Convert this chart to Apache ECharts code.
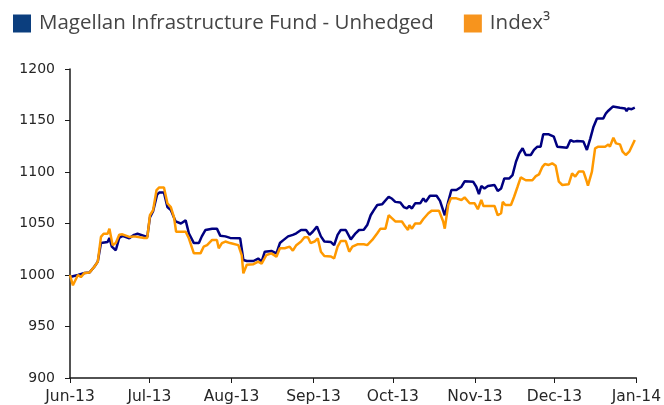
<!DOCTYPE html>
<html>
<head>
<meta charset="utf-8">
<script src="https://cdn.jsdelivr.net/npm/echarts@6/dist/echarts.min.js"></script>
<style>html,body{margin:0;padding:0;background:#fff}#c{width:664px;height:405px}</style>
</head>
<body>
<div id="c"></div>
<script>
// Days since 1 Jun 2013
const monthTickDays = [0, 30, 61, 92, 122, 153, 183, 214];
const monthLabels = ['Jun-13', 'Jul-13', 'Aug-13', 'Sep-13', 'Oct-13', 'Nov-13', 'Dec-13', 'Jan-14'];
const yTicks = [900, 950, 1000, 1050, 1100, 1150, 1200];

const fundName = 'Magellan Infrastructure Fund - Unhedged';
const indexName = 'Index³';

const fundDays = [0,3,5.5,7.4,9.2,10.5,11.7,14.2,14.9,15.8,17.3,18.6,19.8,22.4,24.2,25.5,28,29.2,30.2,31.4,32.9,33.7,35.5,36.8,38.1,39.9,41.9,43.7,44.9,46.8,48.7,49.8,51.2,53.7,55.5,56.8,58.7,60.5,64.3,65.5,66.8,69.3,71.1,72.4,73.6,76.1,78,79.3,80.5,82.4,84.2,85.5,87.3,89.2,90.5,91.7,93.3,94.8,96.1,98.6,99.8,101.1,102.3,104.2,106.1,107.9,109.2,111,112.3,113.6,114.8,116.1,117.9,120.4,121.7,122.9,124.8,126.1,127.3,128.2,129.2,130.4,132.3,133.5,134.4,136,138.5,139.8,141.6,142.9,144.1,146,147.9,149.1,152.3,153.5,154.5,155.4,156.6,157.9,160.4,161.6,162.9,164.1,166,167.2,168.5,169.7,171,172.2,174.1,175.3,176.6,177.8,178.8,180.9,182.8,184.1,187.8,189.1,190.3,191.6,194,195.3,196.6,197.8,199.1,201.5,202.5,203.4,205.1,207.8,209.7,210.3,210.9,212.2,213.4];
const fundValues = [998,1000,1002,1002.5,1008,1013,1031,1032,1036,1027.5,1024,1036,1038,1035.6,1039,1040,1038,1037,1056,1062,1078,1080,1080,1066,1063,1052,1050,1053,1040.5,1031,1031,1037.5,1043.7,1045,1045,1038,1037.5,1036,1035.6,1014.6,1013.6,1013.6,1016,1013,1022.6,1023.3,1021,1031,1033.6,1037.5,1039,1040.5,1043.7,1043.7,1039,1042,1047,1037.5,1032.5,1032,1029,1039,1043.7,1043.7,1034.6,1040.5,1043.7,1044,1048.5,1058,1063,1068,1068.6,1076,1074,1071,1070.5,1066,1064.6,1067,1064.6,1069.6,1069.6,1074.4,1071,1077,1077,1072,1058,1071,1082.5,1082.5,1085.7,1091,1090.6,1085.7,1078.6,1086.4,1084,1086.4,1087.4,1081.6,1084,1093.8,1093.8,1097,1110,1118,1123,1116.5,1116.5,1121.4,1124.6,1124.6,1136.6,1136.6,1134.3,1124.6,1123.6,1131,1129.5,1130,1129.5,1121.4,1132.7,1144,1152,1152,1157,1159.5,1163.5,1162.4,1161.7,1159,1161.7,1161,1162.4];

const indexDays = [0,1.1,3,4.1,5.5,7.4,9.2,10.5,11.7,12.7,14.2,14.9,16.1,17.3,18.6,19.8,22.4,24.2,28,29.2,30.2,31.4,32.7,33.7,35.5,36.8,38.1,39.3,40.1,43.7,44.9,46.8,49.3,50.5,51.8,53.7,55.5,56.2,57.4,58.7,60.5,63.6,64.9,65.5,66.8,69.3,71.1,72.4,74.2,76.1,78,79.3,81.1,83,84.2,85.5,87.3,88.6,89.9,90.9,92.4,93.6,94.8,96.1,98.6,99.8,101.1,102.3,104.2,105.5,106.7,108.6,111,112.3,114.2,116.1,117.3,119.2,120.4,121.7,122.9,125.4,126.7,127.7,128.2,129.2,130.4,132.3,133.5,135.4,136.7,139.4,141,141.6,142.9,143.9,146,147.9,149.1,151,152.9,154.1,155.4,156.2,160.4,161.6,162.9,163.5,164.5,166.6,167.8,169.1,170.3,172.2,174.7,176,177.2,178.5,179.4,180.9,182.2,183.5,184.7,186,188.4,189.7,190.9,192.2,194,195.1,195.7,197.2,198.4,199.6,202.2,203.4,204,205.3,206.3,207.8,208.8,210,211.3,213.4];
const indexValues = [1000,990,1000,998,1002,1002.5,1008,1013,1037,1040,1040,1045,1029,1031,1039,1039.5,1037,1037.5,1036,1036,1058,1063,1082.5,1085,1085,1069.6,1066,1056,1042,1042,1035.6,1021,1021,1027.5,1029,1034,1034,1026,1031,1032.5,1031,1029,1019,1001.6,1010,1010.5,1013,1011,1019.4,1021,1017.8,1026,1026,1027.5,1023.6,1029,1032.5,1036.6,1036.6,1031,1032.5,1035.6,1022.6,1018.5,1018,1016,1027.5,1033,1033,1022.6,1027.5,1029.8,1029.8,1029,1034,1040.5,1045,1045,1058,1055,1052,1052,1047,1043.7,1048.5,1045,1050,1050,1054.4,1060,1062.5,1062.5,1052,1045,1068,1074.4,1074.4,1072.8,1075.4,1069.6,1069.6,1063.8,1072.8,1067,1067,1058,1060,1071,1068,1068,1076,1085.7,1094.8,1092,1092,1096,1097.7,1105,1107.8,1106.8,1108.4,1106,1090.6,1087.4,1088,1098.7,1095.5,1100.4,1100.4,1092,1086.8,1100.4,1123,1124.6,1124.6,1126.8,1124.6,1133.3,1127.8,1126.8,1119.7,1116.5,1119.7,1131];

const pair = (xs, ys) => xs.map((x, i) => [x, ys[i]]);

const chart = echarts.init(document.getElementById('c'), null, {renderer: 'canvas'});
chart.setOption({
  animation: false,
  backgroundColor: '#ffffff',
  legend: {
    left: 8, top: 8,
    itemWidth: 18, itemHeight: 18, itemGap: 30,
    icon: 'rect',
    textStyle: {fontFamily: 'Open Sans', fontSize: 20.5, color: '#454545', padding: [0, 0, 0, 3]},
    data: [
      {name: fundName, itemStyle: {color: '#0b3e7e'}},
      {name: indexName, itemStyle: {color: '#f7941d'}}
    ]
  },
  grid: {left: 70, right: 22, top: 69, bottom: 27, containLabel: false},
  xAxis: {
    type: 'value', min: 0, max: 214,
    axisLine: {lineStyle: {color: '#1a1a1a', width: 1.5}},
    axisTick: {show: true, length: 5, customValues: monthTickDays, lineStyle: {color: '#1a1a1a'}},
    axisLabel: {
      customValues: monthTickDays, margin: 11,
      fontFamily: 'DejaVu Sans', fontSize: 15.5, color: '#262626',
      formatter: v => monthLabels[monthTickDays.indexOf(v)] || ''
    },
    splitLine: {show: false}
  },
  yAxis: {
    type: 'value', min: yTicks[0], max: yTicks[yTicks.length - 1], interval: 50,
    axisLine: {show: true, lineStyle: {color: '#1a1a1a', width: 1.5}},
    axisTick: {show: true, length: 5, lineStyle: {color: '#1a1a1a'}},
    axisLabel: {margin: 15, fontFamily: 'DejaVu Sans', fontSize: 14, color: '#262626',
      formatter: v => String(v)},
    splitLine: {show: false}
  },
  series: [
    {
      name: fundName, type: 'line', data: pair(fundDays, fundValues),
      showSymbol: false, lineStyle: {color: '#000080', width: 2.5}, itemStyle: {color: '#000080'}, z: 2
    },
    {
      name: indexName, type: 'line', data: pair(indexDays, indexValues),
      showSymbol: false, lineStyle: {color: '#ff9900', width: 2.5}, itemStyle: {color: '#ff9900'}, z: 3
    }
  ]
});
</script>
</body>
</html>
